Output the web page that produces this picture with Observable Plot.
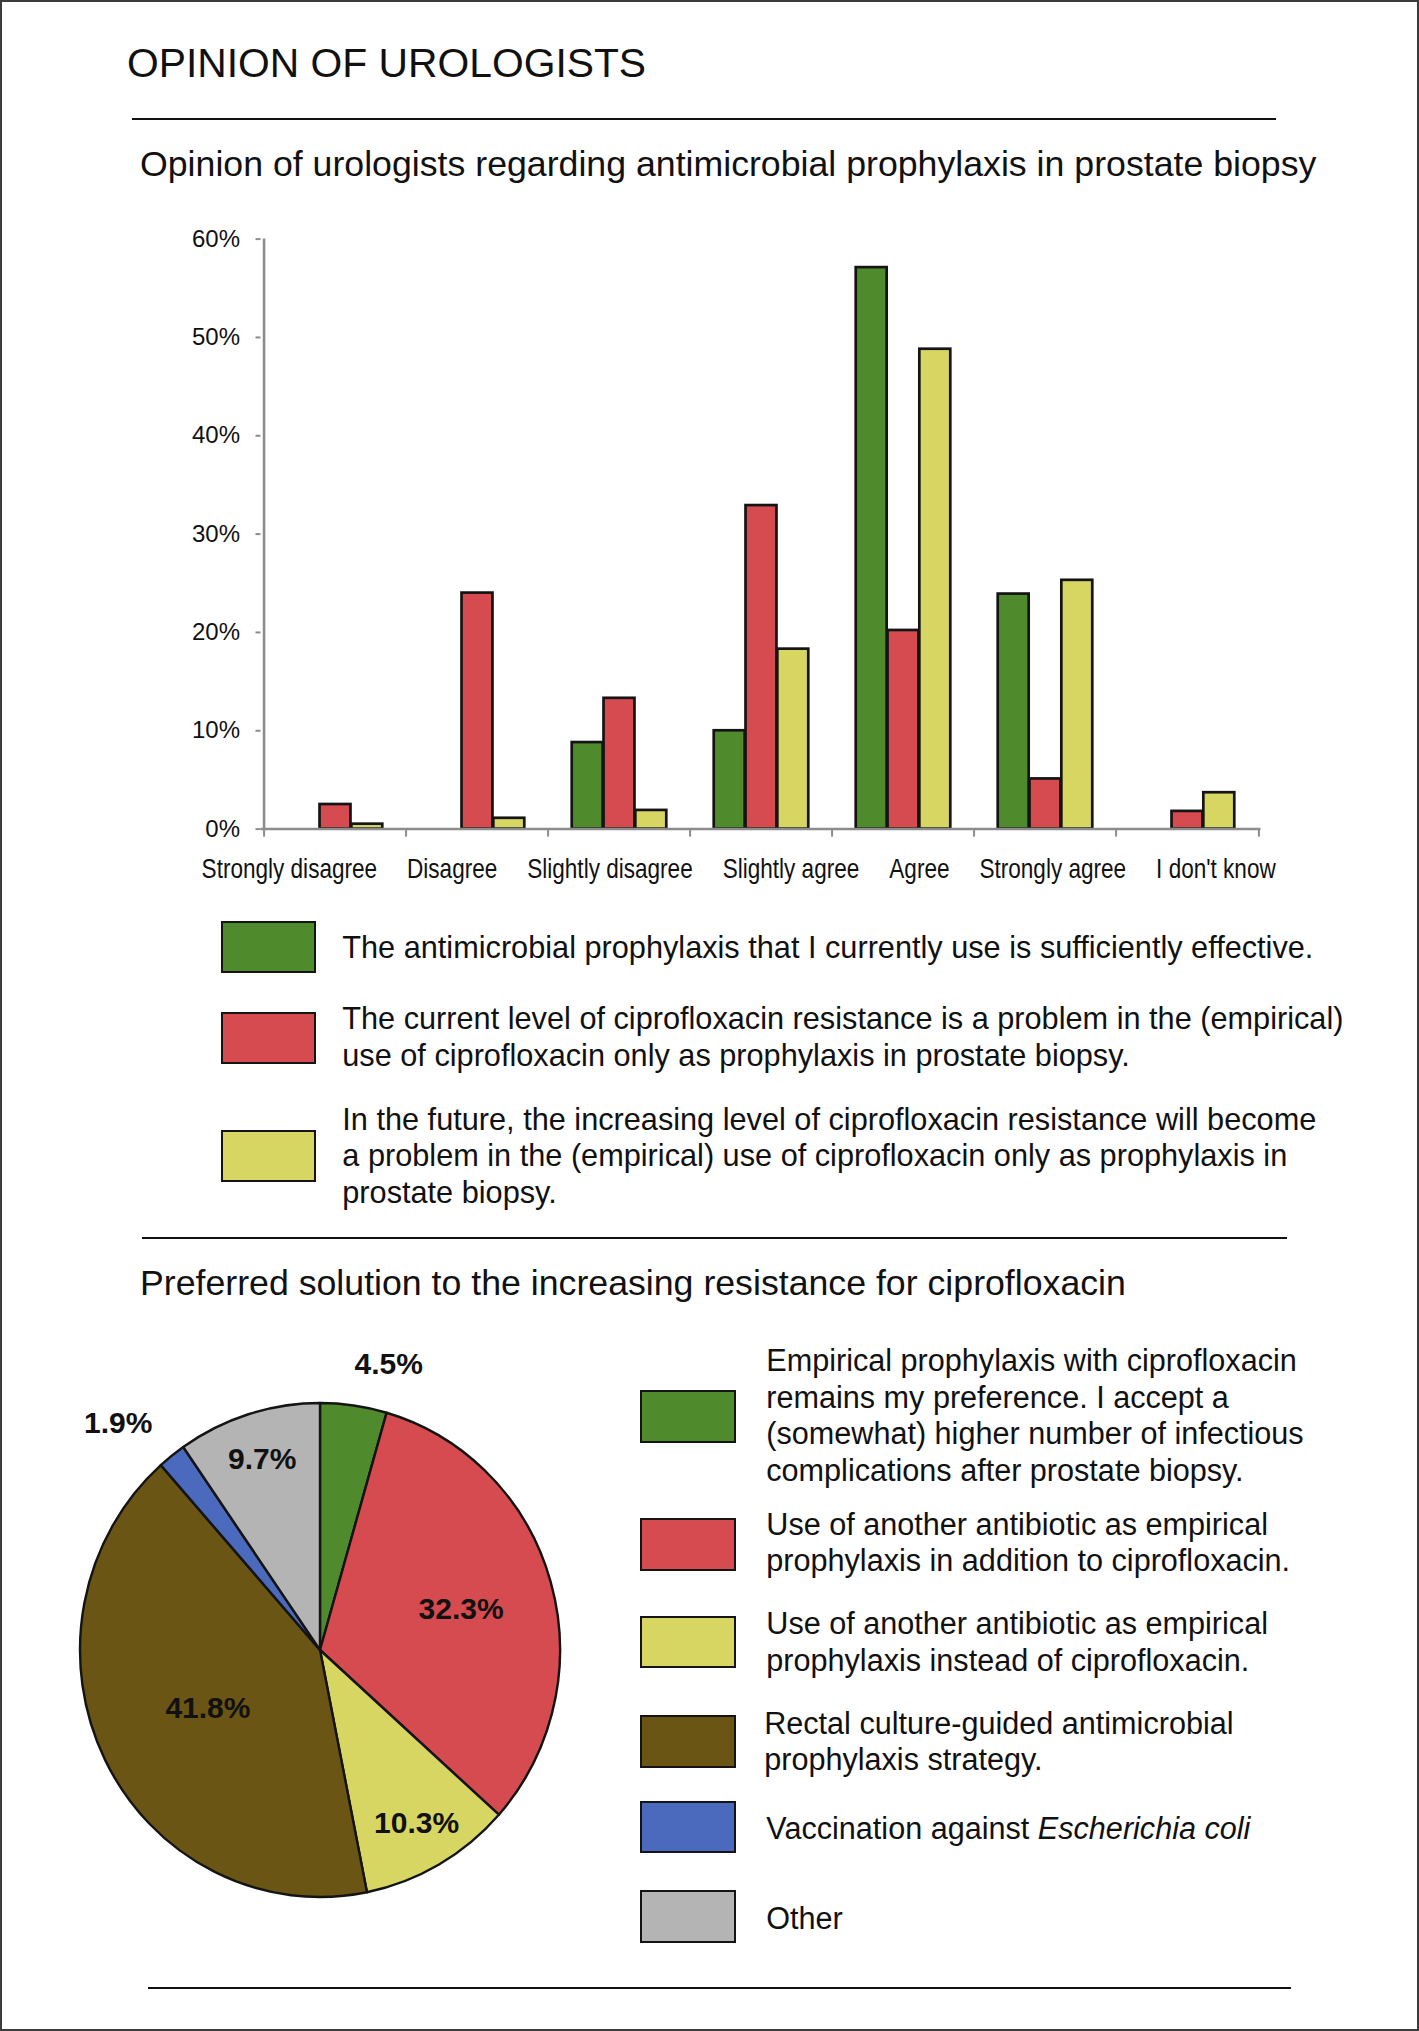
<!DOCTYPE html>
<html>
<head>
<meta charset="utf-8">
<script src="https://cdn.jsdelivr.net/npm/d3@7"></script>
<script src="https://cdn.jsdelivr.net/npm/@observablehq/plot@0.6"></script>
<style>
html, body { margin: 0; padding: 0; background: #fff; }
#page { position: relative; width: 1419px; height: 2031px; overflow: hidden; background: #fff;
  font-family: "Liberation Sans", Arial, Helvetica, sans-serif; color: #111; }
#frame { position: absolute; left: 0; top: 0; width: 1419px; height: 2031px; box-sizing: border-box;
  border: 2px solid #3c3c3c; pointer-events: none; }
.t { position: absolute; white-space: nowrap; }
.rule { position: absolute; height: 2px; background: #111; }
.sw { position: absolute; box-sizing: border-box; border: 2.5px solid #141414; }
.plot { position: absolute; }
</style>
</head>
<body>
<div id="page"></div>
<script>
// ---------------- DATA ----------------
const mainTitle = "OPINION OF UROLOGISTS";
const barTitle = "Opinion of urologists regarding antimicrobial prophylaxis in prostate biopsy";
const pieTitle = "Preferred solution to the increasing resistance for ciprofloxacin";

const categories = ["Strongly disagree", "Disagree", "Slightly disagree", "Slightly agree", "Agree", "Strongly agree", "I don't know"];
const effectiveNow = [0, 0, 8.8, 10.0, 57.1, 23.9, 0];
const problemNow = [2.5, 24.0, 13.3, 32.9, 20.2, 5.1, 1.8];
const problemFuture = [0.5, 1.1, 1.9, 18.3, 48.8, 25.3, 3.7];
const yTicks = [0, 10, 20, 30, 40, 50, 60];
const barSeries = ["effective", "current", "future"];
const barColors = ["#4f8b2d", "#d54b4f", "#d7d663"];
const barLegend = [
  ["The antimicrobial prophylaxis that I currently use is sufficiently effective."],
  ["The current level of ciprofloxacin resistance is a problem in the (empirical)",
   "use of ciprofloxacin only as prophylaxis in prostate biopsy."],
  ["In the future, the increasing level of ciprofloxacin resistance will become",
   "a problem in the (empirical) use of ciprofloxacin only as prophylaxis in",
   "prostate biopsy."]
];

const pieKeys = ["cipro", "addition", "instead", "rectal", "vaccination", "other"];
const pieValues = [4.5, 32.3, 10.3, 41.8, 1.9, 9.7];
const pieColors = ["#4f8b2d", "#d54b4f", "#d7d663", "#6b5515", "#4b69bd", "#b4b4b4"];
const pieLegend = [
  ["Empirical prophylaxis with ciprofloxacin", "remains my preference. I accept a",
   "(somewhat) higher number of infectious", "complications after prostate biopsy."],
  ["Use of another antibiotic as empirical", "prophylaxis in addition to ciprofloxacin."],
  ["Use of another antibiotic as empirical", "prophylaxis instead of ciprofloxacin."],
  ["Rectal culture-guided antimicrobial", "prophylaxis strategy."],
  ["Vaccination against <i>Escherichia coli</i>"],
  ["Other"]
];

// ---------------- LAYOUT ----------------
const W = 1419;
const page = document.getElementById("page");
const sans = '"Liberation Sans", Arial, Helvetica, sans-serif';

function fontAvailable(name) {
  const c = document.createElement("canvas").getContext("2d");
  const s = "Strongly disagree WwMmIil 0123";
  c.font = "40px monospace";
  const a = c.measureText(s).width;
  c.font = `40px "${name}", monospace`;
  const b = c.measureText(s).width;
  return Math.abs(a - b) > 0.5;
}
let narrow = null;
for (const f of ["Liberation Sans Narrow", "Arial Narrow", "Helvetica Narrow"]) {
  if (fontAvailable(f)) { narrow = `"${f}"`; break; }
}

function addText(html, left, top, size, lh, extra = "") {
  const d = document.createElement("div");
  d.className = "t";
  d.style.cssText = `left:${left}px;top:${top}px;font-size:${size}px;line-height:${lh}px;${extra}`;
  d.innerHTML = html;
  page.appendChild(d);
  return d;
}
function addRule(left, top, width) {
  const d = document.createElement("div");
  d.className = "rule";
  d.style.cssText = `left:${left}px;top:${top}px;width:${width}px;`;
  page.appendChild(d);
}
function addSwatch(left, top, w, h, color) {
  const d = document.createElement("div");
  d.className = "sw";
  d.style.cssText = `left:${left}px;top:${top}px;width:${w}px;height:${h}px;background:${color};`;
  page.appendChild(d);
}

// Titles and rules
addText(mainTitle, 127, 43.0, 40.8, 40.8);
addRule(132, 118, 1144);
addText(barTitle, 140, 147.3, 35.7, 35.7);
addRule(142, 1237, 1145);
addText(pieTitle, 140, 1265.5, 35.7, 35.7);
addRule(147.5, 1986.7, 1143.5);

// ---------------- BAR CHART ----------------
const SVG_TOP = 200, SVG_H = 700;
const plotLeft = 260.5, plotRight = 1260.5, yZero = 828.6, yTop = 238.6;
const bw = (plotRight - plotLeft) / categories.length;
const barW = 31.8;
const groupPad = (bw - 3 * barW) / 2;
const axisGrey = "#8c8c8c";
const xLabelSize = 27.5;

const barRows = [];
categories.forEach((c, i) => {
  [effectiveNow, problemNow, problemFuture].forEach((arr, s) =>
    barRows.push({category: c, series: barSeries[s], value: arr[i]}));
});

const barMarks = barSeries.map((s, k) => Plot.barY(
  barRows.filter(d => d.series === s && d.value > 0), {
    x: "category", y: "value", fill: "series",
    stroke: "#141414", strokeWidth: 2.7,
    insetLeft: groupPad + k * barW, insetRight: bw - groupPad - (k + 1) * barW
  }));

const barPlot = Plot.plot({
  width: W, height: SVG_H,
  marginLeft: plotLeft, marginRight: W - plotRight,
  marginTop: yTop - SVG_TOP, marginBottom: SVG_TOP + SVG_H - yZero,
  x: {domain: categories, padding: 0},
  y: {domain: [0, 60]},
  color: {domain: barSeries, range: barColors},
  style: {background: "transparent", fontFamily: sans, color: "#111", overflow: "visible"},
  marks: [
    ...barMarks,
    Plot.ruleY([0], {stroke: axisGrey, strokeWidth: 2.5}),
    Plot.ruleX(categories.slice(0, 1), {x: d => d, dx: -bw / 2, y1: 0, y2: 60, stroke: axisGrey, strokeWidth: 2.6}),
    Plot.axisY({ticks: yTicks, tickSize: 5, tickPadding: 16, tickFormat: d => d + "%",
      fontSize: 24, stroke: axisGrey, strokeWidth: 2, fill: "#111", label: null}),
    Plot.axisX({tickSize: 8, dx: -bw / 2, tickFormat: () => "", stroke: axisGrey, strokeWidth: 2, label: null}),
    Plot.axisX(categories.slice(-1), {tickSize: 8, dx: bw / 2, tickFormat: () => "", stroke: axisGrey, strokeWidth: 2, label: null}),
    Plot.axisX({tickSize: 0, tickPadding: 29.8, fontSize: narrow ? xLabelSize : 23.5, fontFamily: narrow || sans,
      fill: "#111", label: null})
  ]
});
barPlot.classList.add("plot");
barPlot.style.left = "0px";
barPlot.style.top = SVG_TOP + "px";
page.appendChild(barPlot);

// Bar legend
const barLegendTops = [929.9, 1001.2, 1101.9];
const barSwatchTops = [921.3, 1012.3, 1130];
const barColor = barPlot.scale("color");
barSeries.forEach((s, i) => {
  addSwatch(220.7, barSwatchTops[i], 95.6, 52, barColor.apply(s));
  addText(barLegend[i].join("<br>"), 342.3, barLegendTops[i], 30.7, 36.5);
});

// ---------------- PIE CHART ----------------
const PIE_TOP = 1340, PIE_W = 640, PIE_H = 620;
const pieCx = 320, pieCy = 1650, pieRx = 240, pieRy = 247;
const pieRows = pieKeys.map((k, i) => ({key: k, value: pieValues[i]}));
const arcs = d3.pie().sort(null).value(d => d.value)(pieRows);
const labelRows = arcs.map(a => {
  const mid = (a.startAngle + a.endAngle) / 2;
  const outside = a.data.value < 5;
  // small slices labelled outside (pushed sideways away from the pie), larger slices pulled further in
  const r = outside ? 1.17 : 0.9 - 0.009 * a.data.value;
  const side = outside ? Math.sign(Math.sin(mid)) * 0.12 : 0;
  return {key: a.data.key, value: a.data.value, lx: Math.sin(mid) * r + side, ly: Math.cos(mid) * r};
});
const pieColor = Plot.scale({color: {type: "ordinal", domain: pieKeys, range: pieColors}});

function pieSlices(index, scales) {
  const cx = scales.x(0), cy = scales.y(0);
  const rx = scales.x(1) - cx, ry = cy - scales.y(1);
  const g = d3.create("svg:g").attr("transform", `translate(${cx},${cy}) scale(1,${ry / rx})`);
  const arc = d3.arc().innerRadius(0).outerRadius(rx);
  g.selectAll("path").data(arcs).join("path")
    .attr("d", arc)
    .attr("fill", d => pieColor.apply(d.data.key))
    .attr("stroke", "#141414")
    .attr("stroke-width", 2.4)
    .attr("stroke-linejoin", "round");
  return g.node();
}

const piePlot = Plot.plot({
  width: PIE_W, height: PIE_H,
  marginLeft: pieCx - pieRx, marginRight: PIE_W - (pieCx + pieRx),
  marginTop: pieCy - pieRy - PIE_TOP, marginBottom: PIE_TOP + PIE_H - (pieCy + pieRy),
  x: {domain: [-1, 1], axis: null},
  y: {domain: [-1, 1], axis: null},
  style: {background: "transparent", fontFamily: sans, color: "#111", overflow: "visible"},
  marks: [
    pieSlices,
    Plot.text(labelRows, {x: "lx", y: "ly", text: d => d.value.toFixed(1) + "%",
      fontSize: 30, fontWeight: "bold", fill: "#111"})
  ]
});
piePlot.classList.add("plot");
piePlot.style.left = "0px";
piePlot.style.top = PIE_TOP + "px";
page.appendChild(piePlot);

// Pie legend
const pieSwatchTops = [1390, 1518.2, 1615.8, 1715.3, 1800.7, 1890];
const pieTextTops = [1342.1, 1505.5, 1605, 1704.5, 1809.8, 1900.2];
const pieTextLefts = [766.3, 766.3, 766.3, 764.2, 766.3, 766.3];
pieKeys.forEach((k, i) => {
  addSwatch(640.4, pieSwatchTops[i], 95.8, 52.5, pieColor.apply(k));
  addText(pieLegend[i].join("<br>"), pieTextLefts[i], pieTextTops[i], 30.6, 36.5);
});

// frame
const frame = document.createElement("div");
frame.id = "frame";
page.appendChild(frame);

// ---------------- x label tidy-up (after layout) ----------------
const xl = Array.from(barPlot.querySelectorAll('g[aria-label="x-axis tick label"] text'))
  .filter(t => t.textContent.length);
if (!narrow) {
  xl.forEach(t => {
    const w = t.getComputedTextLength();
    t.setAttribute("textLength", (w * xLabelSize / 23.5 * 0.82).toFixed(1));
    t.setAttribute("lengthAdjust", "spacingAndGlyphs");
    t.setAttribute("font-size", xLabelSize);
  });
}
// spread neighbouring labels symmetrically until they keep a minimum gap
const boxes = xl.map(t => { const r = t.getBoundingClientRect(); return {l: r.left, r: r.right}; });
const shifts = boxes.map(() => 0);
const GAP = 30;
for (let it = 0; it < 400; it++) {
  let moved = false;
  for (let i = 1; i < boxes.length; i++) {
    const gap = (boxes[i].l + shifts[i]) - (boxes[i - 1].r + shifts[i - 1]);
    if (gap < GAP - 0.05) {
      const d = (GAP - gap) / 2;
      shifts[i - 1] -= d; shifts[i] += d; moved = true;
    }
  }
  if (!moved) break;
}
xl.forEach((t, i) => {
  if (shifts[i]) t.setAttribute("transform", (t.getAttribute("transform") || "") + ` translate(${shifts[i].toFixed(2)},0)`);
});
</script>
</body>
</html>
